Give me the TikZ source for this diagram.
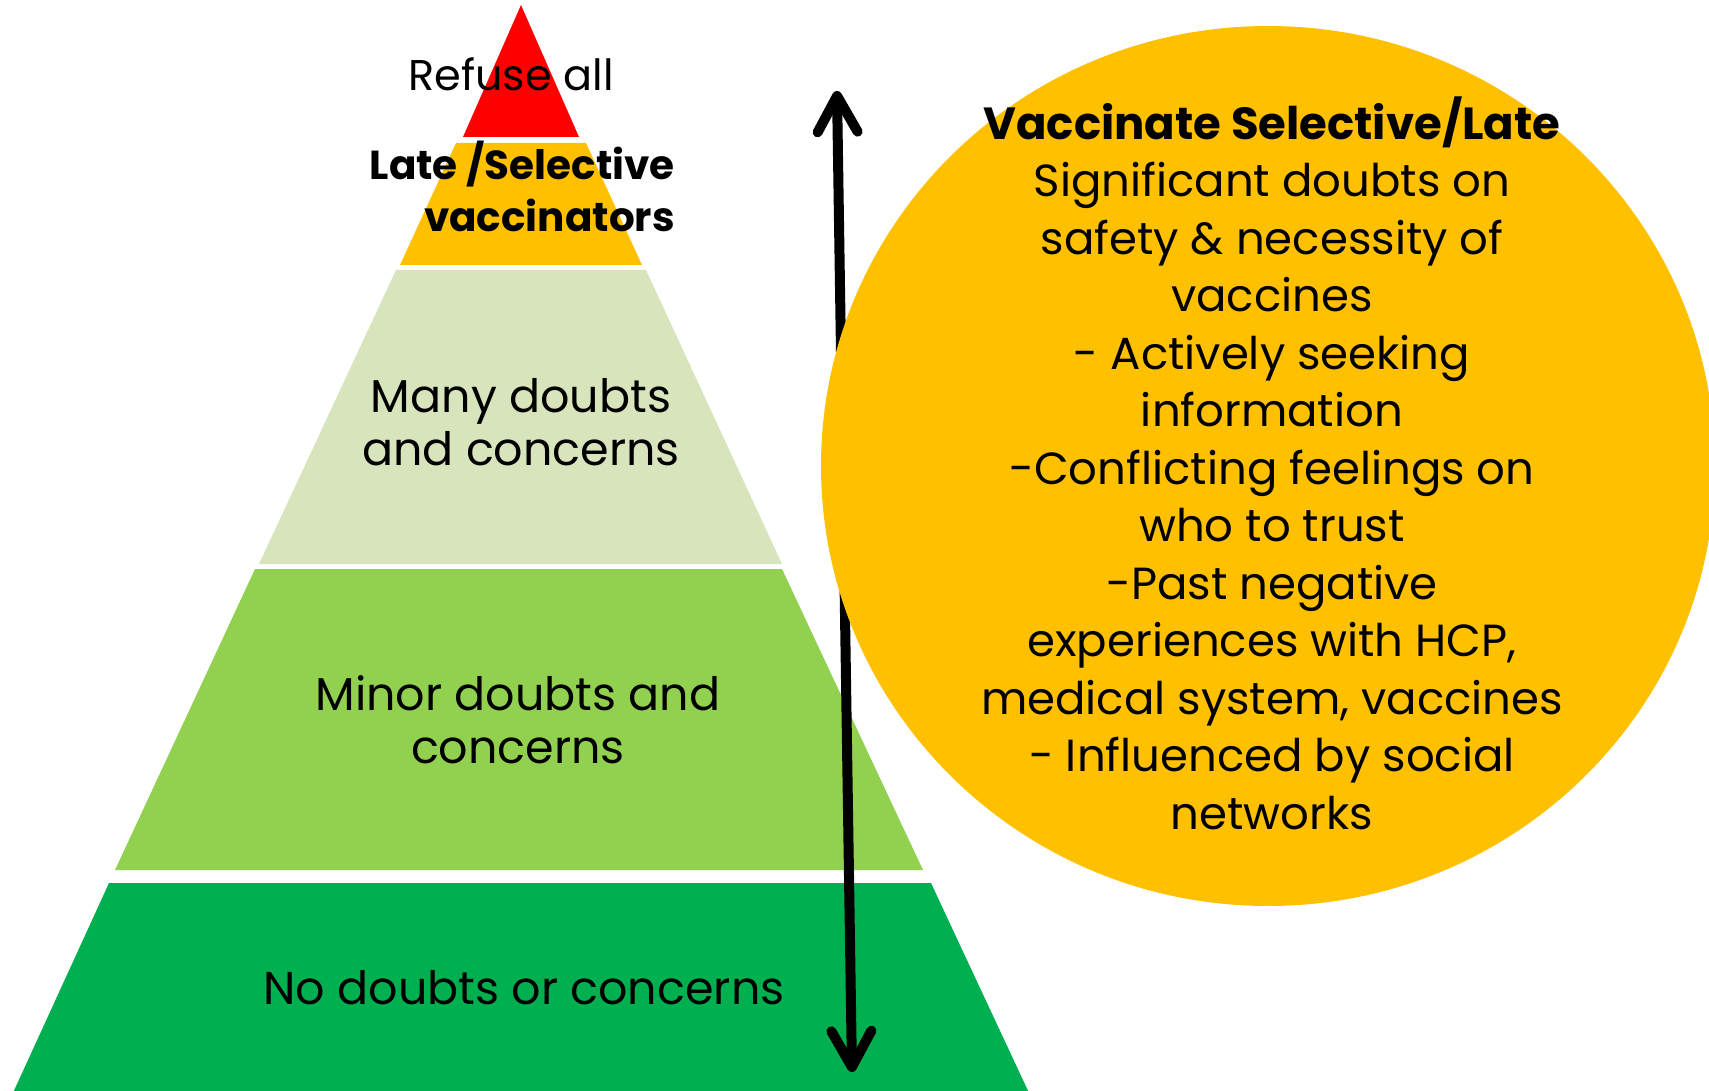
\documentclass[tikz,border=0pt]{standalone}
\usepackage{fontspec}
\setmainfont{Poppins}
\usepackage{xcolor}
\usepackage{tikz}
\usetikzlibrary{arrows.meta}

\definecolor{refusered}{HTML}{FF0000}
\definecolor{lateorange}{HTML}{FFC000}
\definecolor{manygreen}{HTML}{D8E4BC}
\definecolor{minorgreen}{HTML}{92D050}
\definecolor{nogreen}{HTML}{00B050}

\tikzset{
  vbarb/.tip={Straight Barb[length=36pt,width=40pt,round]},
  layertext/.style={align=center, inner sep=0pt, font=\fontsize{46}{53}\selectfont},
  circletext/.style={align=center, inner sep=0pt, font=\fontsize{45}{57.5}\selectfont},
}

\begin{document}
\begin{tikzpicture}[x=1pt, y=-1pt]
  \useasboundingbox (0,0) rectangle (1709,1091);
  \clip (0,0) rectangle (1709,1091);

  % hesitancy pyramid, top to bottom
  \fill[refusered] (521,5) -- (579,137) -- (463,137) -- cycle;
  \fill[lateorange] (456,143) -- (586,143) -- (642,265) -- (400,265) -- cycle;
  \fill[manygreen] (396,270) -- (646,270) -- (782,564) -- (259,564) -- cycle;
  \fill[minorgreen] (255,569) -- (782,569) -- (923,870) -- (115,870) -- cycle;
  \fill[nogreen] (109,883) -- (931,883) -- (1030,1095) -- (12,1095) -- cycle;

  % base of a two-line node is its last line
  \node[anchor=base, inner sep=0pt, font=\fontsize{43}{50}\selectfont] (refuse) at (511,91) {Refuse all};
  \node[anchor=base east, align=right, inner sep=0pt, font=\fontsize{40.5}{52}\selectfont\bfseries] (late) at (675,232) {Late /Selective\\vaccinators};
  \node[layertext, anchor=base] (many) at (521,465) {Many doubts\\and concerns};
  \node[layertext, anchor=base] (minor) at (518,763) {Minor doubts and\\concerns};
  \node[layertext, anchor=base] (none) at (524,1004) {No doubts or concerns};

  % double arrow behind the circle
  \coordinate (up) at (837,91);
  \coordinate (down) at (852,1072);
  \draw[line width=10pt, vbarb-vbarb] (up) -- (down);

  % late / selective circle
  \fill[lateorange] (1268,466) ellipse [x radius=447pt, y radius=440pt];
  \node[circletext, anchor=base] (latedetail) at (1272,829) {\textbf{Vaccinate Selective/Late}\\
    Significant doubts on\\safety \& necessity of\\vaccines\\- Actively seeking\\information\\
    -Conflicting feelings on\\who to trust\\-Past negative\\experiences with HCP,\\
    medical system, vaccines\\- Influenced by social\\networks};
\end{tikzpicture}
\end{document}
